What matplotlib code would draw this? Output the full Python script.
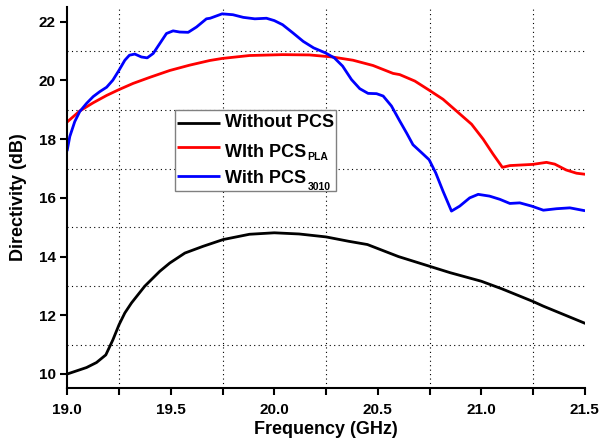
import numpy as np
import matplotlib.pyplot as plt
from matplotlib.ticker import MultipleLocator
from matplotlib.patches import Rectangle

plt.rcParams['font.family'] = ['Liberation Sans', 'DejaVu Sans']
plt.rcParams['font.weight'] = 'bold'

# Without PCS
f_none = [19.0, 19.093, 19.141, 19.186, 19.22, 19.25, 19.278, 19.31, 19.374, 19.447,
          19.495, 19.568, 19.656, 19.753, 19.88, 20.0, 20.12, 20.25, 20.36, 20.45,
          20.6, 20.75, 20.85, 21.0, 21.1, 21.25, 21.3, 21.4, 21.5]
d_none = [10.0, 10.22, 10.39, 10.65, 11.16, 11.68, 12.08, 12.42, 12.99, 13.5,
          13.78, 14.12, 14.35, 14.58, 14.76, 14.81, 14.77, 14.67, 14.52, 14.41,
          14.0, 13.67, 13.45, 13.16, 12.9, 12.47, 12.31, 12.02, 11.73]

# With PCS_PLA
f_pla = [19.0, 19.06, 19.125, 19.19, 19.25, 19.318, 19.4, 19.495, 19.59, 19.688,
         19.748, 19.88, 20.04, 20.17, 20.28, 20.38, 20.477, 20.574, 20.606, 20.679,
         20.748, 20.815, 20.88, 20.953, 21.009, 21.057, 21.102, 21.138, 21.247, 21.315,
         21.355, 21.41, 21.46, 21.495]
d_pla = [18.59, 18.96, 19.24, 19.49, 19.69, 19.9, 20.11, 20.34, 20.52, 20.68,
         20.75, 20.85, 20.88, 20.87, 20.8, 20.69, 20.51, 20.24, 20.2, 19.98,
         19.67, 19.36, 18.96, 18.51, 18.0, 17.49, 17.04, 17.1, 17.14, 17.21,
         17.15, 16.95, 16.84, 16.81]

# With PCS_3010
f_3010 = [19.0, 19.012, 19.036, 19.06, 19.093, 19.125, 19.157, 19.19, 19.22, 19.25,
          19.278, 19.30, 19.326, 19.358, 19.386, 19.415, 19.447, 19.479, 19.511, 19.543,
          19.584, 19.624, 19.672, 19.69, 19.748, 19.80, 19.85, 19.906, 19.962, 20.0,
          20.04, 20.09, 20.14, 20.19, 20.247, 20.29, 20.33, 20.373, 20.413, 20.453,
          20.494, 20.526, 20.566, 20.606, 20.64, 20.67, 20.71, 20.748, 20.78, 20.815,
          20.856, 20.896, 20.944, 20.985, 21.04, 21.09, 21.138, 21.186, 21.243, 21.3,
          21.363, 21.428, 21.495]
d_3010 = [17.64, 18.09, 18.6, 18.94, 19.22, 19.45, 19.62, 19.77, 20.01, 20.35,
          20.69, 20.86, 20.9, 20.8, 20.77, 20.92, 21.26, 21.6, 21.69, 21.65,
          21.64, 21.82, 22.1, 22.12, 22.27, 22.24, 22.15, 22.1, 22.12, 22.04,
          21.9, 21.62, 21.33, 21.11, 20.94, 20.77, 20.49, 20.03, 19.72, 19.56,
          19.55, 19.47, 19.13, 18.62, 18.2, 17.81, 17.55, 17.3, 16.85, 16.23,
          15.55, 15.72, 16.0, 16.12, 16.06, 15.95, 15.81, 15.83, 15.72, 15.58,
          15.63, 15.66, 15.57]

fig = plt.figure(figsize=(6.01, 4.43), dpi=100)
ax = fig.add_axes([0.112, 0.124, 0.861, 0.86])

ax.plot(f_none, d_none, color='black', lw=2)
ax.plot(f_pla, d_pla, color='red', lw=2)
ax.plot(f_3010, d_3010, color='blue', lw=2)

ax.set_xlim(19.0, 21.5)
ax.set_ylim(9.52, 22.5)
ax.xaxis.set_major_locator(MultipleLocator(0.5))
ax.xaxis.set_minor_locator(MultipleLocator(0.25))
ax.yaxis.set_major_locator(MultipleLocator(2))
ax.yaxis.set_minor_locator(MultipleLocator(1))
ax.xaxis.set_major_formatter(plt.FormatStrFormatter('%.1f'))

ax.grid(which='minor', color='black', linestyle=(0, (1, 3)), linewidth=0.8)
ax.grid(which='major', visible=False)
ax.tick_params(axis='both', which='major', direction='out', length=5, width=1.5,
               labelsize=11)
ax.tick_params(axis='x', which='major', pad=5.5)
ax.tick_params(axis='x', which='minor', direction='out', length=5, width=1.5)
ax.tick_params(axis='y', which='minor', length=0)

for side in ['top', 'right']:
    ax.spines[side].set_visible(False)
for side in ['left', 'bottom']:
    ax.spines[side].set_linewidth(1.5)

ax.set_xlabel('Frequency (GHz)', fontsize=13, fontweight='bold', labelpad=3)
ax.set_ylabel('Directivity (dB)', fontsize=13, fontweight='bold', labelpad=8)

# legend drawn by hand so the subscripts can sit low like the original
leg_names = ['Without PCS', 'WIth PCS', 'With PCS']
leg_subs = [None, 'PLA', '3010']
leg_colors = ['black', 'red', 'blue']
line_y = [0.6955, 0.6325, 0.5564]
text_y = [0.685, 0.6063, 0.538]
sub_drop = [0, 1.0, -1.8]

ax.add_patch(Rectangle((0.2077, 0.5171), 0.3111, 0.2126, transform=ax.transAxes,
                       facecolor='white', edgecolor='gray', lw=1.0, zorder=5))
for name, sub, col, ly, ty, dy in zip(leg_names, leg_subs, leg_colors, line_y, text_y, sub_drop):
    ax.plot([0.2116, 0.2947], [ly, ly], color=col, lw=2, transform=ax.transAxes,
            zorder=6, solid_capstyle='butt')
    t = ax.text(0.3043, ty, name, transform=ax.transAxes, fontsize=13,
                fontweight='bold', va='baseline', ha='left', zorder=6)
    if sub:
        ax.annotate(sub, xy=(1, 0), xycoords=t, xytext=(1, dy),
                    textcoords='offset points', fontsize=7.5, fontweight='bold',
                    va='baseline', ha='left', zorder=6)

fig.savefig('out.png', dpi=100)
